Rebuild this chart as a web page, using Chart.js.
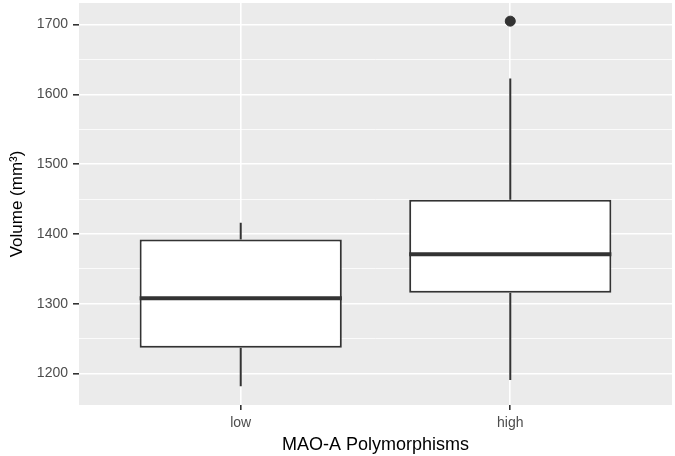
<!DOCTYPE html>
<html>
<head>
<meta charset="utf-8">
<script src="https://cdn.jsdelivr.net/npm/chart.js"></script>
<style>
  body { margin: 0; background: #fff; }
  #wrap { width: 675px; height: 456px; }
</style>
</head>
<body>
<div id="wrap"><canvas id="boxChart"></canvas></div>
<script>
// data
var categories = ['low', 'high'];
var q1 = [1237, 1316];
var medians = [1308, 1371];
var q3 = [1392, 1449];
var whiskerLow = [1182, 1191];
var whiskerHigh = [1416, 1623];
var outlierGroup = ['high'];
var outlierValue = [1705];
var yTicks = [1200, 1250, 1300, 1350, 1400, 1450, 1500, 1550, 1600, 1650, 1700];

var ink = '#333333';
var fontFam = 'Liberation Sans, Arial, sans-serif';

// grey panel behind the grid, ggplot style
var panelBg = {
  id: 'panelBg',
  beforeDraw: function(chart) {
    var a = chart.chartArea, c = chart.ctx;
    c.save();
    c.fillStyle = '#ebebeb';
    c.fillRect(a.left, a.top, a.right - a.left, a.bottom - a.top);
    c.restore();
  }
};

// whiskers and median lines on top of the boxes
var boxParts = {
  id: 'boxParts',
  afterDatasetsDraw: function(chart) {
    var c = chart.ctx, y = chart.scales.y;
    var bars = chart.getDatasetMeta(0).data;
    c.save();
    c.strokeStyle = ink;
    bars.forEach(function(bar, i) {
      c.lineWidth = 2;
      c.beginPath();
      c.moveTo(bar.x, y.getPixelForValue(q3[i]));
      c.lineTo(bar.x, y.getPixelForValue(whiskerHigh[i]));
      c.moveTo(bar.x, y.getPixelForValue(q1[i]));
      c.lineTo(bar.x, y.getPixelForValue(whiskerLow[i]));
      c.stroke();
      c.lineWidth = 4;
      c.beginPath();
      c.moveTo(bar.x - bar.width / 2, y.getPixelForValue(medians[i]));
      c.lineTo(bar.x + bar.width / 2, y.getPixelForValue(medians[i]));
      c.stroke();
    });
    c.restore();
  }
};

var boxData = categories.map(function(c, i) {
  return { x: i + 1, y: [q1[i], q3[i]] };
});
var outlierData = outlierGroup.map(function(g, i) {
  return { x: categories.indexOf(g) + 1, y: outlierValue[i] };
});

var ctx = document.getElementById('boxChart').getContext('2d');
var myBoxChart = new Chart(ctx, {
  type: 'bar',
  data: {
    datasets: [{
      type: 'bar',
      data: boxData,
      backgroundColor: '#ffffff',
      borderColor: ink,
      borderWidth: 2,
      borderSkipped: false,
      categoryPercentage: 0.75,
      barPercentage: 1
    }, {
      type: 'scatter',
      data: outlierData,
      backgroundColor: ink,
      borderColor: ink,
      pointRadius: 5,
      pointHoverRadius: 5
    }]
  },
  options: {
    responsive: true,
    maintainAspectRatio: false,
    animation: false,
    layout: { autoPadding: false, padding: { left: 0, right: 3, top: 3, bottom: 0 } },
    plugins: {
      legend: { display: false },
      tooltip: { enabled: false }
    },
    scales: {
      x: {
        type: 'linear',
        min: 0.4,
        max: 2.6,
        offset: false,
        afterBuildTicks: function(axis) {
          axis.ticks = categories.map(function(c, i) { return { value: i + 1 }; });
        },
        afterFit: function(axis) {
          axis.height = 51;
          axis.paddingLeft = 0;
          axis.paddingRight = 0;
        },
        ticks: {
          callback: function(v) { return categories[v - 1]; },
          color: '#4d4d4d',
          font: { family: fontFam, size: 14 },
          padding: 5,
          maxRotation: 0
        },
        grid: {
          offset: false,
          color: '#ffffff',
          lineWidth: 1.6,
          tickColor: ink,
          tickWidth: 1.6,
          tickLength: 5
        },
        border: { display: false },
        title: {
          display: true,
          text: 'MAO-A Polymorphisms',
          color: '#000000',
          font: { family: fontFam, size: 18 },
          padding: { top: 4, bottom: 0 }
        }
      },
      y: {
        min: 1155,
        max: 1731,
        afterBuildTicks: function(axis) {
          axis.ticks = yTicks.map(function(v) { return { value: v }; });
        },
        afterFit: function(axis) {
          axis.width = 79;
          axis.paddingTop = 0;
          axis.paddingBottom = 0;
        },
        ticks: {
          autoSkip: false,
          callback: function(v) { return v % 100 === 0 ? v : ''; },
          color: '#4d4d4d',
          font: { family: fontFam, size: 14 },
          padding: 5
        },
        grid: {
          color: '#ffffff',
          lineWidth: function(c) { return c.tick && c.tick.value % 100 === 0 ? 1.6 : 0.8; },
          tickColor: function(c) { return c.tick && c.tick.value % 100 === 0 ? ink : 'rgba(0,0,0,0)'; },
          tickWidth: 1.6,
          tickLength: 6
        },
        border: { display: false },
        title: {
          display: true,
          text: 'Volume (mm³)',
          color: '#000000',
          font: { family: fontFam, size: 17 },
          padding: { top: 7, bottom: 0 }
        }
      }
    }
  },
  plugins: [panelBg, boxParts]
});
</script>
</body>
</html>
